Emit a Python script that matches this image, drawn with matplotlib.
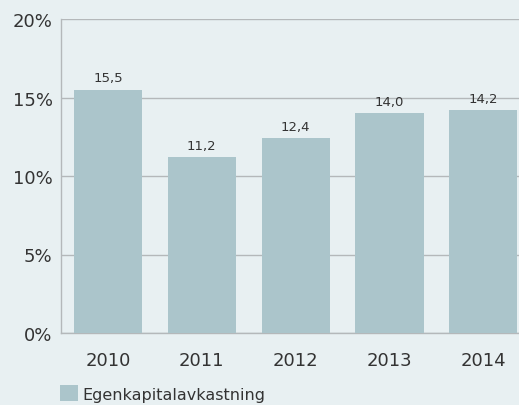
import matplotlib
matplotlib.use("Agg")
from matplotlib import pyplot as plt
from matplotlib.patches import Patch

years = ["2010", "2011", "2012", "2013", "2014"]
roe = [15.5, 11.2, 12.4, 14.0, 14.2]
roe_labels = ["15,5", "11,2", "12,4", "14,0", "14,2"]
y_ticks = [0, 5, 10, 15, 20]
y_tick_labels = ["0%", "5%", "10%", "15%", "20%"]
series_name = "Egenkapitalavkastning"

bg = "#e8f0f2"
bar_color = "#abc5cb"
grid_color = "#b4b8ba"
text_color = "#333333"

plt.rcParams["font.family"] = ["DejaVu Sans"]

fig = plt.figure(figsize=(5.19, 4.06), dpi=100, facecolor=bg)
# axes placed in pixel terms: left 61, right 519, top 20, bottom 334
ax = fig.add_axes([61 / 519, 1 - 334 / 406, (519 - 61) / 519, (334 - 20) / 406])
ax.set_facecolor(bg)

x = list(range(len(years)))
ax.bar(x, roe, width=0.725, color=bar_color, zorder=3)

# value labels above bars
for xi, v, lab in zip(x, roe, roe_labels):
    ax.text(xi, v + 0.35, lab, ha="center", va="bottom", fontsize=9.5, color=text_color, zorder=4)

ax.set_ylim(0, 20)
ax.set_xlim(-0.5, 4.38)
ax.set_yticks(y_ticks)
ax.set_yticklabels(y_tick_labels)
ax.set_xticks(x)
ax.set_xticklabels(years)
ax.tick_params(axis="both", length=0, colors=text_color, labelsize=13)
ax.tick_params(axis="y", pad=6)
ax.tick_params(axis="x", pad=13)

ax.yaxis.grid(True, color=grid_color, linewidth=1.0, zorder=0)
for side in ["top", "right"]:
    ax.spines[side].set_visible(False)
for side in ["left", "bottom"]:
    ax.spines[side].set_color(grid_color)
    ax.spines[side].set_linewidth(1.0)

handles = [Patch(facecolor=bar_color, edgecolor="none", label=series_name)]
fig.legend(handles=handles, loc="lower left", bbox_to_anchor=(46 / 519, -0.027),
           frameon=False, fontsize=11.5, handlelength=1.1, handleheight=1.1,
           handletextpad=0.3, labelcolor=text_color)

plt.savefig("out.png", dpi=100, facecolor=bg)
